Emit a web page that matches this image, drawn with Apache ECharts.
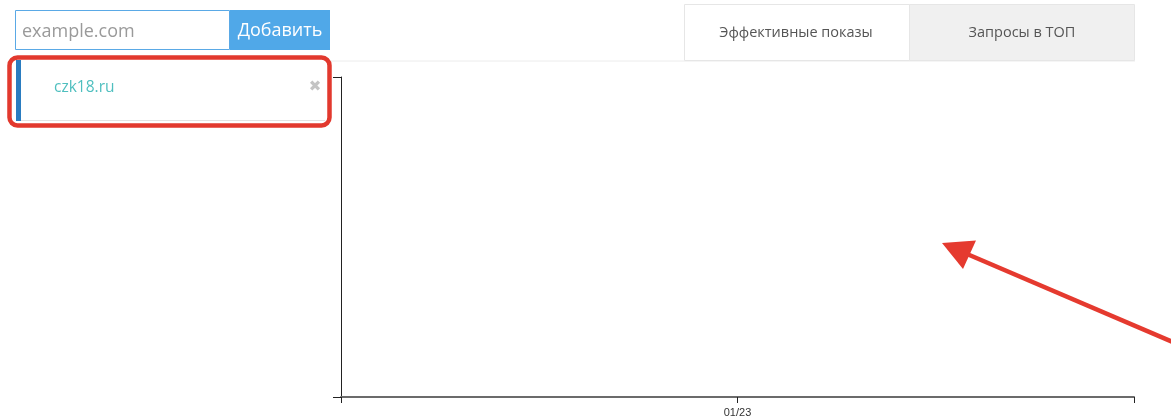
<!DOCTYPE html>
<html><head><meta charset="utf-8">
<script src="https://cdn.jsdelivr.net/npm/echarts@6/dist/echarts.min.js"></script>
<style>html,body{margin:0;padding:0;background:#fff}#c{width:1171px;height:420px}</style>
</head><body><div id="c"></div>
<script>
const categories = ['', '01/23', ''];
const seriesValues = [null, null, null];
const yTicks = [0, 1];
const tabLabels = ['Эффективные показы', 'Запросы в ТОП'];
const siteNames = ['czk18.ru'];
const inputPlaceholder = 'example.com';
const buttonLabel = 'Добавить';

const chart = echarts.init(document.getElementById('c'), null, {renderer: 'canvas'});
const font = '"Open Sans", "Noto Sans", sans-serif';
chart.setOption({
  animation: false,
  grid: {left: 341, right: 37, top: 77, bottom: 23, containLabel: false},
  xAxis: {
    type: 'category', data: categories, boundaryGap: false,
    axisLine: {lineStyle: {color: '#6b6b6b', width: 2}},
    axisTick: {show: true, length: 6, alignWithLabel: true, lineStyle: {color: '#222', width: 1}},
    axisLabel: {color: '#333', fontSize: 11, fontFamily: 'Liberation Sans, Arial, sans-serif', margin: 10, interval: 0},
    splitLine: {show: false}
  },
  yAxis: {
    type: 'value', min: yTicks[0], max: yTicks[yTicks.length - 1], interval: 1,
    axisLine: {show: true, lineStyle: {color: '#222', width: 1}},
    axisTick: {show: true, length: 8, lineStyle: {color: '#222', width: 1}},
    axisLabel: {show: false},
    splitLine: {show: false}
  },
  series: [{type: 'line', data: seriesValues, symbol: 'none'}],
  graphic: [
    {type: 'line', shape: {x1: 330, y1: 61, x2: 1135, y2: 61}, style: {stroke: '#ececec', lineWidth: 1}},
    {type: 'rect', shape: {x: 15.5, y: 10.5, width: 214, height: 39}, style: {fill: '#fff', stroke: '#5aa9e6', lineWidth: 1}},
    {type: 'text', x: 22, y: 32, style: {text: inputPlaceholder, fill: '#9a9a9a', fontSize: 18, fontFamily: font, verticalAlign: 'middle'}},
    {type: 'rect', shape: {x: 230, y: 10, width: 100, height: 40}, style: {fill: '#50a8e8'}},
    {type: 'text', x: 280, y: 31, style: {text: buttonLabel, fill: '#fff', fontSize: 18, fontFamily: font, align: 'center', verticalAlign: 'middle'}},
    {type: 'rect', shape: {x: 15, y: 60, width: 310, height: 61}, style: {fill: '#fff'}},
    {type: 'line', shape: {x1: 20, y1: 120.5, x2: 325, y2: 120.5}, style: {stroke: '#e3e3e3', lineWidth: 1}},
    {type: 'rect', shape: {x: 16, y: 60, width: 5, height: 61}, style: {fill: '#2a7cc0'}},
    {type: 'text', x: 54, y: 88, style: {text: siteNames[0], fill: '#4fbfbf', fontSize: 15.5, fontFamily: font, verticalAlign: 'middle'}},
    {type: 'text', x: 315, y: 87.5, style: {text: '✖', fill: '#c4c4c4', fontSize: 15, fontFamily: 'DejaVu Sans', align: 'center', verticalAlign: 'middle'}},
    {type: 'rect', shape: {x: 9.5, y: 57.5, width: 320, height: 68, r: 8}, style: {fill: 'none', stroke: '#e2392e', lineWidth: 4.5}},
    {type: 'rect', shape: {x: 684.5, y: 4.5, width: 225, height: 56}, style: {fill: '#fff', stroke: '#e6e6e6', lineWidth: 1}},
    {type: 'rect', shape: {x: 909.5, y: 4.5, width: 225, height: 56}, style: {fill: '#f0f0f0', stroke: '#e6e6e6', lineWidth: 1}},
    {type: 'text', x: 796, y: 33, style: {text: tabLabels[0], fill: '#555', fontSize: 14.5, fontFamily: font, align: 'center', verticalAlign: 'middle'}},
    {type: 'text', x: 1022, y: 33, style: {text: tabLabels[1], fill: '#555', fontSize: 14.5, fontFamily: font, align: 'center', verticalAlign: 'middle'}},
    {type: 'line', shape: {x1: 1175, y1: 343, x2: 960, y2: 251}, style: {stroke: '#e53a2f', lineWidth: 4.5}},
    {type: 'polygon', shape: {points: [[942, 243], [976, 240.5], [963, 269]]}, style: {fill: '#e53a2f'}}
  ]
});
</script></body></html>
